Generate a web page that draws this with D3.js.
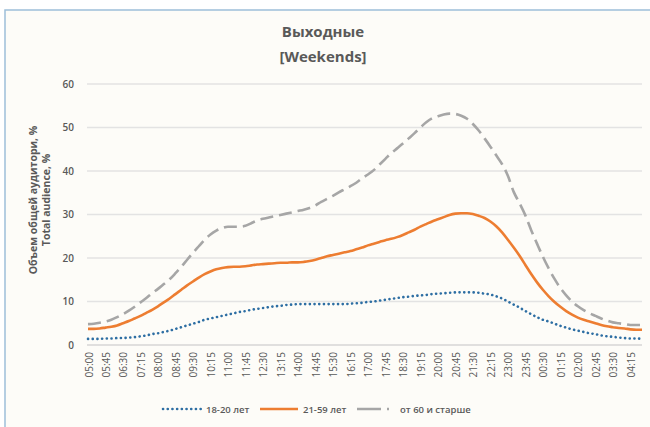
<!DOCTYPE html>
<html>
<head>
<meta charset="utf-8">
<script src="https://cdn.jsdelivr.net/npm/d3@7"></script>
<style>
  html, body { margin: 0; padding: 0; background: #ffffff; }
  svg { display: block; }
  text { font-family: "Open Sans", "Noto Sans", "DejaVu Sans", sans-serif; }
</style>
</head>
<body>
<svg id="chart" width="650" height="427"></svg>
<script>
// ---- data (15-minute slots from 05:00 to 04:45) ----
const times = [];
for (let k = 0; k < 96; k++) {
  const m = (5 * 60 + k * 15) % (24 * 60);
  times.push(String(Math.floor(m / 60)).padStart(2, "0") + ":" + String(m % 60).padStart(2, "0"));
}
const tickLabels = times.filter((t, i) => i % 3 === 0);
const yTicks = [0, 10, 20, 30, 40, 50, 60];

const seriesNames = ["18-20 лет", "21-59 лет", "от 60 и старше"];

const age18_20 = [1.4,1.4,1.4,1.5,1.5,1.6,1.6,1.7,1.8,2.0,2.2,2.5,2.7,3.0,3.3,3.7,4.1,4.5,4.9,5.3,
  5.8,6.1,6.4,6.7,7.0,7.3,7.6,7.8,8.1,8.3,8.5,8.7,8.9,9.0,9.2,9.3,9.4,9.4,9.4,9.4,
  9.4,9.4,9.4,9.4,9.4,9.5,9.6,9.7,9.9,10.0,10.2,10.4,10.6,10.8,11.0,11.1,11.3,11.4,11.5,11.7,
  11.8,11.9,12.0,12.1,12.1,12.1,12.1,12.0,11.8,11.6,11.2,10.7,10.0,9.3,8.6,7.8,7.1,6.4,5.8,5.4,
  4.9,4.4,4.0,3.6,3.3,3.0,2.7,2.5,2.2,2.0,1.9,1.7,1.6,1.5,1.5,1.4];

const age21_59 = [3.7,3.7,3.8,4.0,4.2,4.5,5.0,5.5,6.1,6.7,7.4,8.1,8.9,9.8,10.7,11.7,12.7,13.7,14.6,15.5,
  16.3,16.9,17.4,17.7,17.9,18.0,18.0,18.1,18.3,18.5,18.6,18.7,18.8,18.9,18.9,19.0,19.0,19.1,19.3,19.6,
  20.0,20.4,20.7,21.0,21.3,21.6,22.0,22.4,22.9,23.3,23.7,24.1,24.4,24.8,25.3,25.9,26.5,27.2,27.8,28.4,
  28.9,29.4,29.9,30.2,30.3,30.3,30.1,29.7,29.2,28.4,27.3,25.9,24.2,22.4,20.5,18.4,16.3,14.4,12.7,11.2,
  9.9,8.8,7.8,7.0,6.3,5.8,5.4,5.0,4.6,4.3,4.1,3.9,3.8,3.6,3.5,3.5];

const age60plus = [4.8,4.9,5.1,5.4,5.8,6.4,7.1,7.9,8.8,9.8,10.8,11.9,12.9,14.0,15.1,16.5,18.0,19.6,21.2,22.7,
  24.2,25.4,26.3,26.9,27.2,27.2,27.2,27.4,28.0,28.6,29.0,29.3,29.6,29.9,30.2,30.5,30.8,31.1,31.5,32.1,
  32.9,33.6,34.3,35.1,35.8,36.5,37.3,38.3,39.2,40.2,41.5,42.8,44.1,45.2,46.3,47.5,48.7,50.0,51.2,52.1,
  52.6,53.0,53.2,53.1,52.7,52.0,50.8,49.3,47.5,45.6,43.6,41.6,38.9,35.2,32.6,29.8,26.4,23.3,20.3,17.6,
  15.2,13.1,11.4,10.0,8.9,8.0,7.3,6.7,6.1,5.6,5.2,5.0,4.8,4.6,4.6,4.6];

// ---- drawing ----
const svg = d3.select("#chart");
const textColor = "#595959";

// frame + background
svg.append("rect").attr("x", 5).attr("y", 10).attr("width", 660).attr("height", 430)
  .attr("fill", "#fdfcf8").attr("stroke", "#9dbfd9").attr("stroke-width", 1.5);

const x = d3.scalePoint().domain(times).range([88, 642]);
const y = d3.scaleLinear().domain([0, 60]).range([345, 84]);

// gridlines
svg.append("g").selectAll("line").data(yTicks).join("line")
  .attr("x1", 87).attr("x2", 642)
  .attr("y1", d => y(d)).attr("y2", d => y(d))
  .attr("stroke", d => d === 0 ? "#d6d6d6" : "#e3e3e3").attr("stroke-width", 1.5);

// y axis labels
const yAxis = d3.axisLeft(y).tickValues(yTicks).tickSize(0).tickPadding(0);
const gy = svg.append("g").attr("transform", "translate(74,0)").call(yAxis);
gy.select(".domain").remove();
gy.selectAll("text").attr("fill", textColor).style("font-size", "10px").style("font-weight", "600")
  .style("font-family", '"Open Sans", sans-serif');

// x axis labels
const xAxis = d3.axisBottom(x).tickValues(tickLabels).tickSize(0).tickPadding(0);
const gx = svg.append("g").attr("transform", "translate(0,352)").call(xAxis);
gx.select(".domain").remove();
gx.selectAll("text")
  .attr("fill", textColor).style("font-size", "10px")
  .style("font-family", '"Open Sans", sans-serif')
  .attr("text-anchor", "end").attr("dy", null).attr("y", 0).attr("x", 0)
  .attr("transform", "rotate(-90)").attr("dominant-baseline", "central");

// lines
const line = d3.line().x((d, i) => x(times[i])).y(d => y(d)).curve(d3.curveMonotoneX);

svg.append("path").datum(age60plus).attr("d", line).attr("fill", "none")
  .attr("stroke", "#a6a6a6").attr("stroke-width", 2.6).attr("stroke-dasharray", "13 6");
svg.append("path").datum(age21_59).attr("d", line).attr("fill", "none")
  .attr("stroke", "#ed7d31").attr("stroke-width", 2.6);
svg.append("path").datum(age18_20).attr("d", line).attr("fill", "none")
  .attr("stroke", "#2d6ea3").attr("stroke-width", 2.6).attr("stroke-linecap", "round")
  .attr("stroke-dasharray", "0.1 4.6");

// title
svg.append("text").attr("x", 323).attr("y", 37).attr("text-anchor", "middle")
  .attr("fill", textColor).style("font-size", "15px").style("font-weight", "700").text("Выходные");
svg.append("text").attr("x", 323).attr("y", 62).attr("text-anchor", "middle")
  .attr("fill", textColor).style("font-size", "15px").style("font-weight", "700").text("[Weekends]");

// y axis title
const yt = svg.append("text").attr("transform", "translate(37,200) rotate(-90)")
  .attr("text-anchor", "middle").attr("fill", textColor)
  .style("font-size", "10.5px").style("font-weight", "700");
yt.append("tspan").attr("x", 0).attr("dy", 0).text("Объем общей аудитори, %");
yt.append("tspan").attr("x", 0).attr("dy", 13).text("Total audience, %");

// legend
const legend = [
  { name: seriesNames[0], x1: 163, color: "#2d6ea3", dash: "0.1 4.6", cap: "round" },
  { name: seriesNames[1], x1: 260, color: "#ed7d31", dash: null, cap: "butt" },
  { name: seriesNames[2], x1: 357, color: "#a6a6a6", dash: "24 6 2 50", cap: "butt" }
];
const lg = svg.append("g");
legend.forEach(l => {
  lg.append("line").attr("x1", l.x1).attr("x2", l.x1 + 38).attr("y1", 409).attr("y2", 409)
    .attr("stroke", l.color).attr("stroke-width", 2.6).attr("stroke-linecap", l.cap)
    .attr("stroke-dasharray", l.dash);
  lg.append("text").attr("x", l.x1 + 43).attr("y", 409).attr("dominant-baseline", "central")
    .attr("fill", textColor).style("font-size", "9.5px").style("font-weight", "600").text(l.name);
});
</script>
</body>
</html>
